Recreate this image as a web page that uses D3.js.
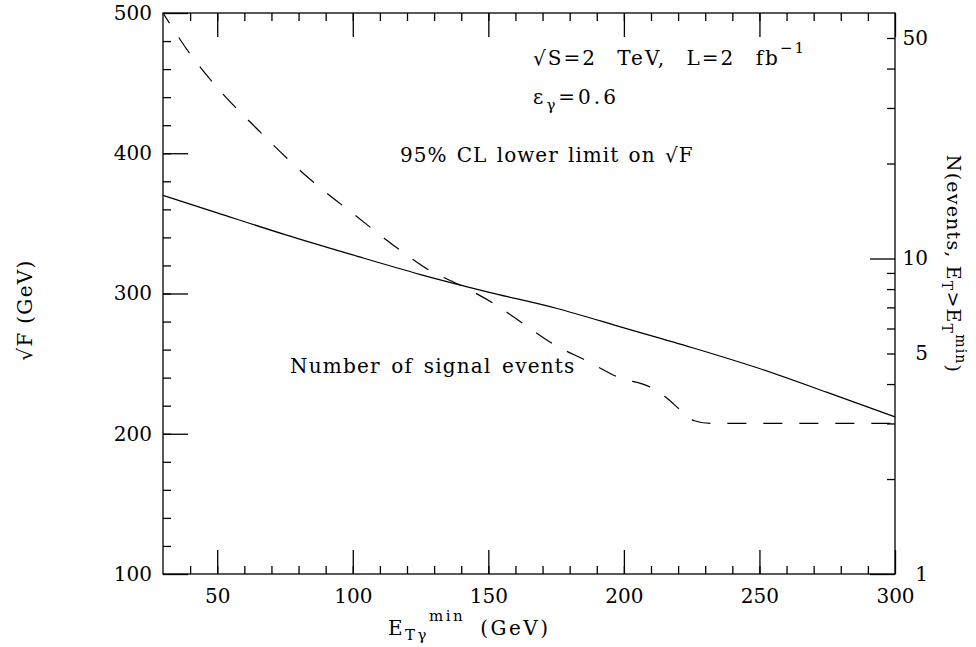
<!DOCTYPE html>
<html>
<head>
<meta charset="utf-8">
<script src="https://cdn.jsdelivr.net/npm/d3@7"></script>
<style>
  body { margin: 0; background: #fff; }
  svg text { font-family: "DejaVu Serif", serif; fill: #000; white-space: pre; }
</style>
</head>
<body>
<div id="chart"></div>
<script>
// 95% CL lower limit on sqrt(F) (left axis, GeV)
const etLimit = [30, 50, 75, 100, 125, 150, 175, 200, 225, 250, 275, 300]
const sqrtFLimit = [370, 357.5, 342, 327.5, 313.5, 301, 289.5, 275.5, 261.5, 246.5, 229.5, 212]

// number of signal events (right axis, log)
const etEvents = [30, 40, 50, 65, 85, 100, 117, 128, 140, 152, 163, 174, 186, 198, 210, 216, 221, 226, 232, 300]
const nEvents = [60, 44.5, 34.8, 25.6, 17.6, 13.9, 10.7, 9.2, 8.2, 7.2, 6.2, 5.35, 4.75, 4.2, 3.9, 3.6, 3.3, 3.06, 3.0, 3.0]

const xMajor = [50, 100, 150, 200, 250, 300]
const xMinor = d3.range(40, 300, 10)
const yMajor = [100, 200, 300, 400, 500]
const yMinor = d3.range(120, 500, 20)
const nMinor = [2, 3, 4, 5, 6, 7, 8, 9, 20, 30, 40, 50]
const nMajor = [1, 10]
const nLabels = [1, 5, 10, 50]

const width = 976
const height = 647
const plot = {left: 163, right: 895, top: 13, bottom: 574}

const x = d3.scaleLinear([30, 300], [plot.left, plot.right])
const y = d3.scaleLinear([100, 500], [plot.bottom, plot.top])
const yN = d3.scaleLog([1, 60], [plot.bottom, plot.top])

const svg = d3.select("#chart").append("svg")
  .attr("width", width)
  .attr("height", height)

function drawAxis(axis, transform) {
  return svg.append("g")
    .attr("transform", transform)
    .call(axis)
    .attr("font-family", "DejaVu Serif, serif")
    .attr("font-size", 20)
    .call(g => g.select(".domain").remove())
    .call(g => g.selectAll("line").attr("stroke-width", 1.3))
}

// left axis
drawAxis(d3.axisLeft(y).tickValues(yMajor).tickSize(-25).tickPadding(11), `translate(${plot.left},0)`)
drawAxis(d3.axisLeft(y).tickValues(yMinor).tickSize(-8).tickFormat(""), `translate(${plot.left},0)`)

// bottom + top axes
drawAxis(d3.axisBottom(x).tickValues(xMajor).tickSize(-24).tickPadding(15), `translate(0,${plot.bottom})`)
drawAxis(d3.axisBottom(x).tickValues(xMinor).tickSize(-8).tickFormat(""), `translate(0,${plot.bottom})`)
drawAxis(d3.axisTop(x).tickValues(xMajor).tickSize(-24).tickFormat(""), `translate(0,${plot.top})`)
drawAxis(d3.axisTop(x).tickValues(xMinor).tickSize(-8).tickFormat(""), `translate(0,${plot.top})`)

// right axis (log)
drawAxis(d3.axisRight(yN).tickValues(nMajor).tickSize(-25).tickFormat(""), `translate(${plot.right},0)`)
drawAxis(d3.axisRight(yN).tickValues(nMinor).tickSize(-8).tickFormat(""), `translate(${plot.right},0)`)
drawAxis(d3.axisRight(yN).tickValues(nLabels).tickSize(0).tickFormat(d3.format("d")), `translate(${plot.right},0)`)
  .call(g => g.selectAll("text").attr("text-anchor", "end").attr("x", 33))

svg.append("rect")
  .attr("x", plot.left)
  .attr("y", plot.top)
  .attr("width", plot.right - plot.left)
  .attr("height", plot.bottom - plot.top)
  .attr("fill", "none")
  .attr("stroke", "#000")
  .attr("stroke-width", 1.3)

// curves
const limitLine = d3.line()
  .x((d, i) => x(etLimit[i]))
  .y(d => y(d))
  .curve(d3.curveMonotoneX)

const eventLine = d3.line()
  .x((d, i) => x(etEvents[i]))
  .y(d => yN(d))
  .curve(d3.curveMonotoneX)

svg.append("path")
  .attr("d", limitLine(sqrtFLimit))
  .attr("fill", "none")
  .attr("stroke", "#000")
  .attr("stroke-width", 1.2)

svg.append("path")
  .attr("d", eventLine(nEvents))
  .attr("fill", "none")
  .attr("stroke", "#000")
  .attr("stroke-width", 1.2)
  .attr("stroke-dasharray", "19,17")
  .attr("stroke-dashoffset", 7)

// annotations
const t1 = svg.append("text").attr("x", 533).attr("y", 65).attr("font-size", 20)
  .attr("letter-spacing", 2).attr("word-spacing", 12)
t1.append("tspan").text("√S=2 TeV, L=2 fb")
t1.append("tspan").attr("font-size", 15).attr("dy", -12).text("−1")

const t2 = svg.append("text").attr("x", 533).attr("y", 104).attr("font-size", 20)
  .attr("letter-spacing", 3)
t2.append("tspan").text("ε")
t2.append("tspan").attr("font-size", 15).attr("dy", 6).text("γ")
t2.append("tspan").attr("dy", -6).text("=0.6")

svg.append("text").attr("x", 400).attr("y", 162).attr("font-size", 20)
  .attr("letter-spacing", 1).attr("word-spacing", 2)
  .text("95% CL lower limit on √F")

svg.append("text").attr("x", 290).attr("y", 373).attr("font-size", 20)
  .attr("letter-spacing", 1.2).attr("word-spacing", 3)
  .text("Number of signal events")

// axis titles
svg.append("text")
  .attr("transform", "translate(32,310) rotate(-90)")
  .attr("text-anchor", "middle")
  .attr("font-size", 20)
  .attr("letter-spacing", 1.3)
  .text("√F (GeV)")

const xt = svg.append("text").attr("x", 388).attr("y", 635).attr("font-size", 20)
  .attr("letter-spacing", 2.5).attr("word-spacing", 6)
xt.append("tspan").text("E")
xt.append("tspan").attr("font-size", 15).attr("dy", 5).text("Tγ")
xt.append("tspan").attr("font-size", 15).attr("dy", -19).text("min")
xt.append("tspan").attr("dy", 14).text(" (GeV)")

const yt = svg.append("text")
  .attr("transform", "translate(947,264) rotate(90)")
  .attr("text-anchor", "middle")
  .attr("font-size", 19)
  .attr("letter-spacing", 1.2)
yt.append("tspan").text("N(events, E")
yt.append("tspan").attr("font-size", 14).attr("dy", 5).text("T")
yt.append("tspan").attr("dy", -5).text(">E")
yt.append("tspan").attr("font-size", 14).attr("dy", 5).text("T")
yt.append("tspan").attr("font-size", 14).attr("dy", -14).text("min")
yt.append("tspan").attr("dy", 9).text(")")
</script>
</body>
</html>
